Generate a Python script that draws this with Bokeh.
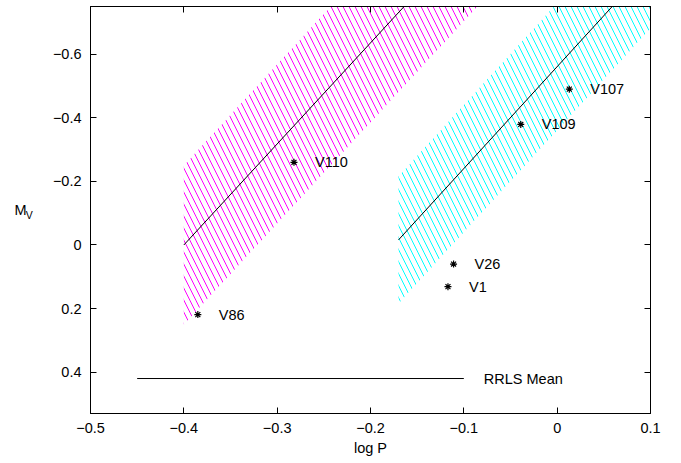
from bokeh.plotting import figure
from bokeh.models import Range1d, FixedTicker, LinearAxis, Label, ColumnDataSource
from bokeh.core.properties import value
from bokeh.embed import file_html
from bokeh.resources import INLINE

# Period-luminosity relations: start and end points of each fitted line
# and the half-width (in M_V) of the instability strip around it
strip_colors = ["#ff00ff", "#00ffff"]
fit_logp_start = [-0.40, -0.17]
fit_mv_start = [0.000, -0.016]
fit_logp_end = [-0.164, 0.059]
fit_mv_end = [-0.75, -0.75]
strip_halfwidth = [0.25, 0.20]

# Individual variable stars
star_names = ["V110", "V86", "V107", "V109", "V26", "V1"]
star_logp = [-0.282, -0.385, 0.013, -0.039, -0.111, -0.117]
star_mv = [-0.260, 0.219, -0.490, -0.379, 0.060, 0.131]

# Mean RR Lyrae magnitude
rrls_logp = [-0.45, -0.10]
rrls_mv = 0.42

x_ticks = [-0.5, -0.4, -0.3, -0.2, -0.1, 0.0, 0.1]
x_tick_labels = ["\u22120.5", "\u22120.4", "\u22120.3", "\u22120.2", "\u22120.1", "0", "0.1"]
y_ticks = [-0.6, -0.4, -0.2, 0.0, 0.2, 0.4]
y_tick_labels = ["\u22120.6", "\u22120.4", "\u22120.2", "0", "0.2", "0.4"]

FONT = "Liberation Sans"
FS = "14.5px"

p = figure(width=681, height=463, output_backend="svg", toolbar_location=None,
           x_range=Range1d(-0.5, 0.1), y_range=Range1d(0.53, -0.75),
           min_border_left=90, min_border_right=31, min_border_top=6,
           min_border_bottom=50)
p.background_fill_color = "white"
p.border_fill_color = "white"
p.outline_line_color = "black"
p.outline_line_width = 1
p.grid.visible = False

# Hatched strips with the fitted line through each
for i in range(2):
    x0, y0 = fit_logp_start[i], fit_mv_start[i]
    x1, y1 = fit_logp_end[i], fit_mv_end[i]
    slope = (y1 - y0) / (x1 - x0)
    w = strip_halfwidth[i]
    xe = x0 + 0.4  # run far past the frame; the plot clips it
    ye = y0 + slope * (xe - x0)
    px = [x0, xe, xe, x0]
    py = [y0 - w, ye - w, ye + w, y0 + w]
    p.patch(px, py, fill_color=None, line_color=None,
            hatch_pattern="\\", hatch_color=strip_colors[i],
            hatch_scale=12, hatch_weight=1)
    p.line([x0, x1], [y0, y1], line_color="black", line_width=1)

# Stars
src = ColumnDataSource(dict(x=star_logp, y=star_mv, name=star_names))
p.scatter("x", "y", source=src, marker="asterisk", size=7,
          line_color="black", line_width=1.2)
p.text("x", "y", text="name", source=src, x_offset=21,
       text_baseline="middle", text_align="left",
       text_font=value(FONT), text_font_size=FS, text_color="black")

# RR Lyrae mean
p.line(rrls_logp, [rrls_mv, rrls_mv], line_color="black", line_width=1)
p.add_layout(Label(x=rrls_logp[1], y=rrls_mv, text="RRLS Mean", x_offset=20,
                   text_baseline="middle", text_align="left",
                   text_font=FONT, text_font_size=FS, text_color="black"))

# Axes: ticks pointing inward on all four sides
def style_axis(ax, ticks, labels, show_labels):
    ax.ticker = FixedTicker(ticks=ticks)
    ax.major_label_overrides = {t: l for t, l in zip(ticks, labels)}
    ax.major_tick_in = 6
    ax.major_tick_out = 0
    ax.minor_tick_line_color = None
    ax.axis_line_color = "black"
    ax.major_tick_line_color = "black"
    ax.major_label_text_font = FONT
    ax.major_label_text_color = "black"
    ax.axis_label_text_font = FONT
    ax.axis_label_text_font_style = "normal"
    ax.axis_label_text_color = "black"
    if show_labels:
        ax.major_label_text_font_size = FS
    else:
        ax.major_label_text_font_size = "0px"
        ax.major_label_standoff = 0

xa = p.xaxis[0]
style_axis(xa, x_ticks, x_tick_labels, True)
xa.major_label_standoff = 9
xa.axis_label = "log P"
xa.axis_label_text_font_size = FS
xa.axis_label_standoff = 4

# The y title "M_V": subscript V on the inner axis (pushed down one
# short line), M on an outer one
ya = p.yaxis[0]
style_axis(ya, y_ticks, y_tick_labels, True)
ya.major_label_standoff = 9
ya.axis_label = "\nV"
ya.axis_label_orientation = "horizontal"
ya.axis_label_text_font_size = "10.5px"
ya.axis_label_text_line_height = 0.8
ya.axis_label_standoff = 17

outer = LinearAxis(axis_label="M", axis_label_orientation="horizontal")
style_axis(outer, [], [], False)
outer.axis_line_color = None
outer.major_tick_line_color = None
outer.axis_label_text_font_size = FS
outer.axis_label_standoff = -4
p.add_layout(outer, "left")

top = LinearAxis()
right = LinearAxis()
style_axis(top, x_ticks, [""] * len(x_ticks), False)
style_axis(right, y_ticks, [""] * len(y_ticks), False)
p.add_layout(top, "above")
p.add_layout(right, "right")

open("out.html", "w").write(file_html(p, INLINE))
